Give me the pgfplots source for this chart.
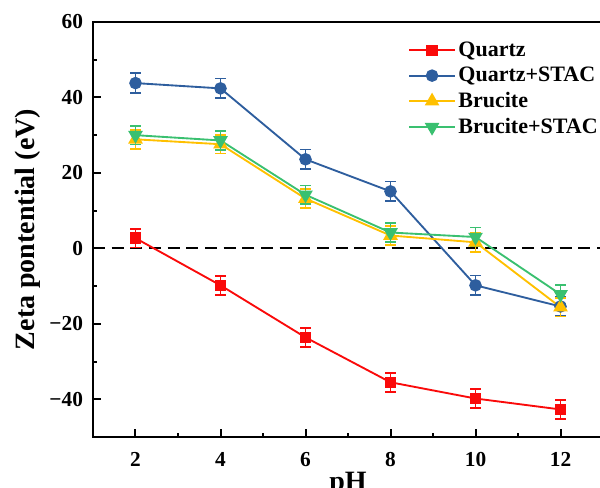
\documentclass[border=0pt]{standalone}
\usepackage{fontspec}
\setmainfont{Liberation Serif}
\usepackage{pgfplots}
\pgfplotsset{compat=1.18}

\definecolor{cquartz}{RGB}{250,10,10}
\definecolor{cqstac}{RGB}{46,94,158}
\definecolor{cbru}{RGB}{255,192,0}
\definecolor{cbstac}{RGB}{58,192,112}

\pgfplotsset{
  ebar/.style={
    error bars/.cd, y dir=both, y explicit,
    error bar style={line width=1.2pt},
    error mark options={rotate=90, mark size=4pt, line width=1.2pt, solid}
  }
}

\begin{document}
\begin{tikzpicture}
\begin{axis}[
  at={(0,0)}, anchor=south west,
  scale only axis,
  width=382.5pt, height=311.25pt,
  xmin=1, xmax=13, ymin=-50, ymax=60,
  xtick={2,4,6,8,10,12},
  ytick={-40,-20,0,20,40,60},
  yticklabels={−40,−20,0,20,40,60},
  minor x tick num=1, minor y tick num=1,
  tick align=inside,
  major tick length=6pt, minor tick length=3pt,
  tick style={line width=1.5pt, black},
  axis line style={line width=1.5pt},
  axis lines*=box,
  xtick pos=bottom, ytick pos=left,
  /pgf/number format/assume math mode=true,
  ticklabel style={font=\bfseries\fontsize{16}{18}\selectfont},
  xticklabel style={yshift=-8pt},
  yticklabel style={xshift=-4pt},
  xlabel={pH}, ylabel={Zeta pontential (eV)},
  label style={font=\bfseries\fontsize{21}{23}\selectfont},
  xlabel style={at={(axis description cs:0.5,0)}, anchor=north, yshift=-23pt},
  ylabel style={at={(axis description cs:-0.127,0.5)}, anchor=center},
  legend style={at={(rel axis cs:0.61,0.965)}, anchor=north west, draw=none, fill=none,
    font=\bfseries\fontsize{16.5}{18}\selectfont, row sep=2.5pt,
    /tikz/every even column/.append style={column sep=2pt}},
  legend cell align=left,
  legend image code/.code={\draw[line width=1.4pt, mark repeat=2,mark phase=2] plot coordinates {(0cm,0cm) (0.6cm,0cm) (1.2cm,0cm)};},
  every axis plot/.append style={line width=1.4pt},
  clip=false,
]
\addplot[black, line width=1.4pt, dash pattern=on 9pt off 5pt, forget plot] coordinates {(1,0) (13,0)};

\addplot[cquartz, mark=square*, mark size=3.6pt, ebar] coordinates {
  (2,2.7) +- (0,2.5)
  (4,-9.8) +- (0,2.5)
  (6,-23.6) +- (0,2.5)
  (8,-35.5) +- (0,2.5)
  (10,-39.8) +- (0,2.5)
  (12,-42.7) +- (0,2.5)
};
\addlegendentry{Quartz}

\addplot[cqstac, mark=*, mark size=4pt, ebar] coordinates {
  (2,43.8) +- (0,2.6)
  (4,42.4) +- (0,2.6)
  (6,23.6) +- (0,2.6)
  (8,15.1) +- (0,2.6)
  (10,-9.8) +- (0,2.6)
  (12,-15.4) +- (0,2.6)
};
\addlegendentry{Quartz+STAC}

\addplot[cbru, mark=triangle*, mark size=5pt, ebar] coordinates {
  (2,28.9) +- (0,2.5)
  (4,27.6) +- (0,2.5)
  (6,13.2) +- (0,2.5)
  (8,3.4) +- (0,2.5)
  (10,1.6) +- (0,2.5)
  (12,-15.6) +- (0,2.5)
};
\addlegendentry{Brucite}

\addplot[cbstac, mark=triangle*, mark options={rotate=180}, mark size=5pt, ebar] coordinates {
  (2,30.0) +- (0,2.5)
  (4,28.6) +- (0,2.5)
  (6,14.2) +- (0,2.5)
  (8,4.2) +- (0,2.5)
  (10,3.0) +- (0,2.5)
  (12,-12.2) +- (0,2.5)
};
\addlegendentry{Brucite+STAC}
\end{axis}
\pgfresetboundingbox
\useasboundingbox (-69.75pt,-38.25pt) rectangle (380.25pt,327.75pt);
\end{tikzpicture}
\end{document}
